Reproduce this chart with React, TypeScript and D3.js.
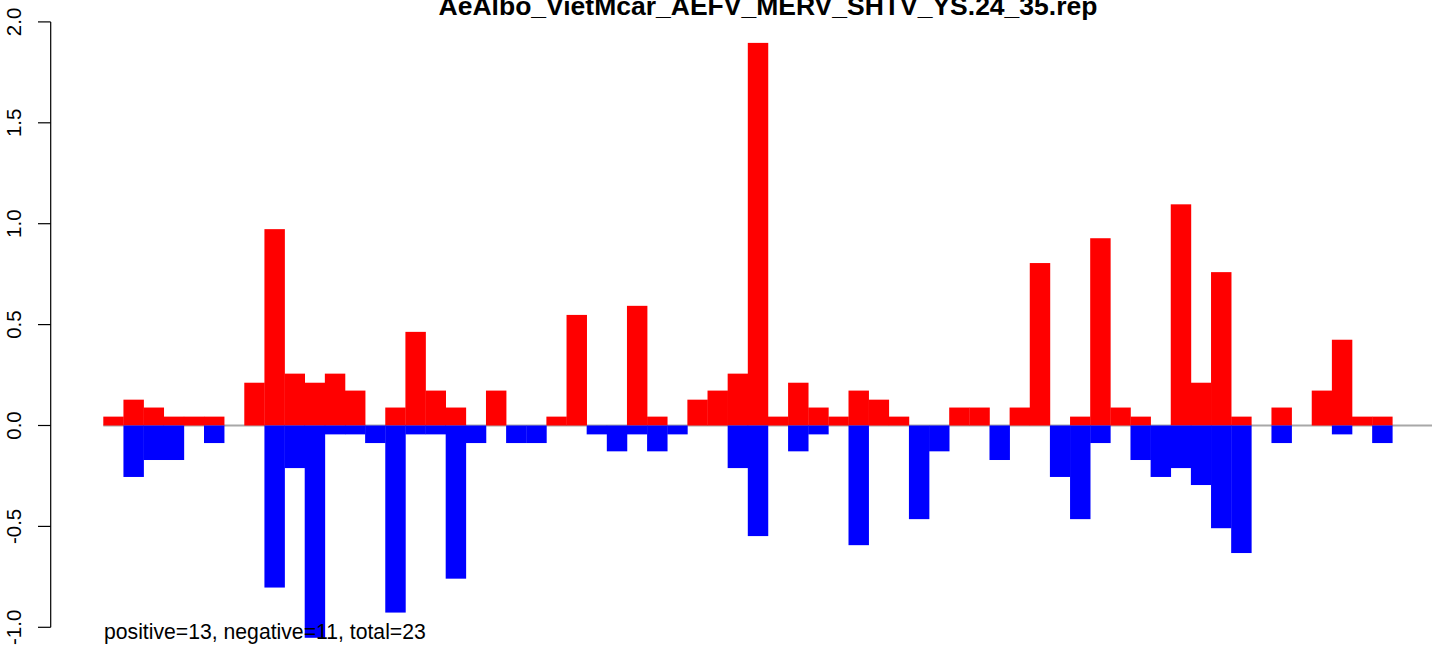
import React from "react";
import * as d3 from "d3";

const title = "AeAlbo_VietMcar_AEFV_MERV_SHTV_YS.24_35.rep";
const footnote = "positive=13, negative=11, total=23";

const positiveValues = [
  0.044, 0.128, 0.089, 0.044, 0.044, 0.044, 0, 0.212, 0.973, 0.257,
  0.212, 0.257, 0.173, 0, 0.089, 0.464, 0.173, 0.089, 0, 0.173,
  0, 0, 0.044, 0.548, 0, 0, 0.593, 0.044, 0, 0.128,
  0.173, 0.257, 1.896, 0.044, 0.212, 0.089, 0.044, 0.173, 0.128, 0.044,
  0, 0, 0.089, 0.089, 0, 0.089, 0.805, 0, 0.044, 0.928,
  0.089, 0.044, 0, 1.096, 0.212, 0.76, 0.044, 0, 0.089, 0,
  0.173, 0.425, 0.044, 0.044,
];

const negativeValues = [
  0, -0.255, -0.171, -0.171, 0, -0.087, 0, 0, -0.803, -0.211,
  -1.052, -0.044, -0.044, -0.087, -0.927, -0.044, -0.044, -0.759, -0.087, 0,
  -0.087, -0.087, 0, 0, -0.044, -0.128, -0.044, -0.128, -0.044, 0,
  0, -0.211, -0.548, 0, -0.128, -0.044, 0, -0.593, 0, 0,
  -0.464, -0.128, 0, 0, -0.171, 0, 0, -0.255, -0.464, -0.087,
  0, -0.171, -0.255, -0.211, -0.295, -0.509, -0.632, 0, -0.087, 0,
  0, -0.044, 0, -0.087,
];

const yTicks = [-1, -0.5, 0, 0.5, 1, 1.5, 2];

const W = 1441;
const H = 645;
const FONT = "'Liberation Sans', Arial, Helvetica, sans-serif";

export default function App() {
  const n = positiveValues.length;
  const x = d3.scaleLinear().domain([0, n]).range([103.3, 1392.3]);
  const y = d3.scaleLinear().domain([-1, 2]).range([627.3, 21.9]);
  const axisX = 50.7;
  const bw = x(1) - x(0);

  return (
    <svg
      width={W}
      height={H}
      style={{ position: "absolute", left: 0, top: 0, background: "#fff" }}
    >
      <text
        x={768}
        y={15}
        textAnchor="middle"
        fontFamily={FONT}
        fontWeight="bold"
        fontSize={26.5}
      >
        {title}
      </text>

      {/* y axis */}
      <line x1={axisX} x2={axisX} y1={y(2)} y2={y(-1)} stroke="#000" strokeWidth={1.2} />
      {yTicks.map((t) => (
        <g key={t}>
          <line x1={axisX - 12.7} x2={axisX} y1={y(t)} y2={y(t)} stroke="#000" strokeWidth={1.2} />
          <text
            transform={`translate(21,${y(t)}) rotate(-90)`}
            textAnchor="middle"
            fontFamily={FONT}
            fontSize={20.5}
          >
            {t.toFixed(1)}
          </text>
        </g>
      ))}

      <line x1={x(0)} x2={1432} y1={y(0)} y2={y(0)} stroke="#a8a8a8" strokeWidth={2} />

      {positiveValues.map((v, i) =>
        v > 0 ? (
          <rect
            key={"p" + i}
            x={x(i)}
            y={y(v)}
            width={bw + 0.3}
            height={y(0) - y(v)}
            fill="#ff0000"
          />
        ) : null
      )}
      {negativeValues.map((v, i) =>
        v < 0 ? (
          <rect
            key={"n" + i}
            x={x(i)}
            y={y(0)}
            width={bw + 0.3}
            height={y(v) - y(0)}
            fill="#0000ff"
          />
        ) : null
      )}

      <text x={104} y={639} fontFamily={FONT} fontSize={21.2}>
        {footnote}
      </text>
    </svg>
  );
}
